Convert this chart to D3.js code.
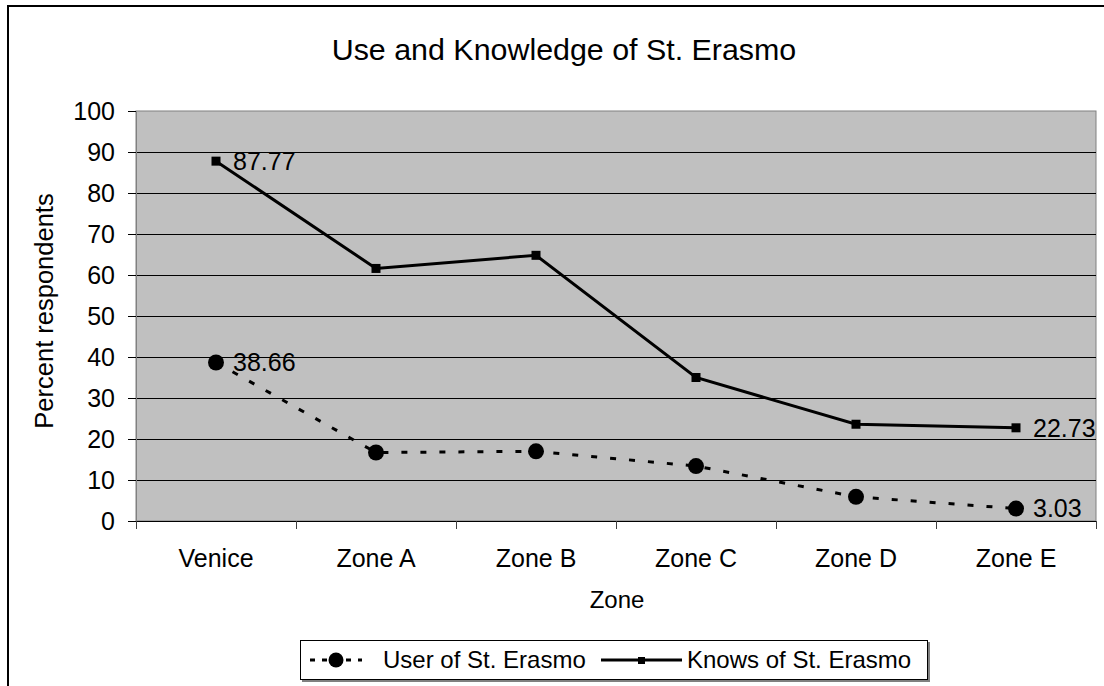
<!DOCTYPE html>
<html>
<head>
<meta charset="utf-8">
<script src="https://cdn.jsdelivr.net/npm/d3@7"></script>
<style>
  body { margin: 0; background: #fff; }
  text { font-family: "Liberation Sans", Arial, sans-serif; fill: #000; }
</style>
</head>
<body>
<div id="chart"></div>
<script>
// data
const zones = ["Venice", "Zone A", "Zone B", "Zone C", "Zone D", "Zone E"]
const userValues = [38.66, 16.7, 17.0, 13.4, 5.9, 3.03]
const knowsValues = [87.77, 61.6, 64.8, 35.0, 23.6, 22.73]
const yTicks = [0, 10, 20, 30, 40, 50, 60, 70, 80, 90, 100]
// only first and last points carry labels
const labelled = [0, 5]

const W = 1104, H = 686
const plot = {left: 136, right: 1096, top: 111, bottom: 521}

const svg = d3.select('#chart').append('svg')
  .attr('width', W)
  .attr('height', H)
  .attr('viewBox', [0, 0, W, H])

// outer chart frame (runs off the right and bottom edge)
svg.append('rect')
  .attr('x', 8).attr('y', 6)
  .attr('width', W + 20).attr('height', H + 20)
  .attr('fill', '#fff')
  .attr('stroke', '#000')
  .attr('stroke-width', 2)

const x = d3.scaleBand()
  .domain(zones)
  .range([plot.left, plot.right])

const y = d3.scaleLinear()
  .domain([0, 100])
  .range([plot.bottom, plot.top])

const cx = d => x(d) + x.bandwidth() / 2

// plot area
svg.append('rect')
  .attr('x', plot.left).attr('y', plot.top)
  .attr('width', plot.right - plot.left)
  .attr('height', plot.bottom - plot.top)
  .attr('fill', '#c0c0c0')
  .attr('stroke', '#808080')
  .attr('stroke-width', 1)

// gridlines
svg.append('g')
  .selectAll('line')
  .data(yTicks.filter(t => t > 0 && t < 100))
  .join('line')
    .attr('x1', plot.left).attr('x2', plot.right)
    .attr('y1', d => Math.round(y(d)) + 0.5)
    .attr('y2', d => Math.round(y(d)) + 0.5)
    .attr('stroke', '#000')

// y axis
const yAxis = svg.append('g')
  .attr('transform', `translate(${plot.left},0)`)
  .call(d3.axisLeft(y).tickValues(yTicks).tickSize(8).tickPadding(13).tickSizeOuter(0))
yAxis.select('.domain').attr('stroke', '#808080')
yAxis.selectAll('.tick line').attr('stroke', '#000')
yAxis.selectAll('text')
  .style('font-family', '"Liberation Sans", Arial, sans-serif')
  .style('font-size', '25px')
  .attr('fill', '#000')

// x axis: labels centred, ticks on category boundaries
const xAxis = svg.append('g')
  .attr('transform', `translate(0,${plot.bottom})`)
  .call(d3.axisBottom(x).tickSize(0).tickPadding(0).tickSizeOuter(0))
xAxis.select('.domain').attr('stroke', '#000')
xAxis.selectAll('text')
  .attr('y', 28)
  .style('font-family', '"Liberation Sans", Arial, sans-serif')
  .style('font-size', '25px')
  .attr('fill', '#000')

const bounds = zones.map(z => x(z)).concat([x.range()[1]])
svg.append('g')
  .selectAll('line')
  .data(bounds)
  .join('line')
    .attr('x1', d => Math.round(d) + 0.5).attr('x2', d => Math.round(d) + 0.5)
    .attr('y1', plot.bottom).attr('y2', plot.bottom + 8)
    .attr('stroke', '#404040')

// titles
svg.append('text')
  .attr('x', 564).attr('y', 60)
  .attr('text-anchor', 'middle')
  .style('font-size', '30.4px')
  .text('Use and Knowledge of St. Erasmo')

svg.append('text')
  .attr('x', 617).attr('y', 608)
  .attr('text-anchor', 'middle')
  .style('font-size', '24px')
  .text('Zone')

svg.append('text')
  .attr('transform', 'translate(53,311) rotate(-90)')
  .attr('text-anchor', 'middle')
  .style('font-size', '25.5px')
  .text('Percent respondents')

// series
const line = d3.line()
  .x((d, i) => cx(zones[i]))
  .y(d => y(d))

svg.append('path')
  .datum(knowsValues)
  .attr('d', line)
  .attr('fill', 'none')
  .attr('stroke', '#000')
  .attr('stroke-width', 3)

svg.append('path')
  .datum(userValues)
  .attr('d', line)
  .attr('fill', 'none')
  .attr('stroke', '#000')
  .attr('stroke-width', 3)
  .attr('stroke-dasharray', '6,13')

svg.append('g')
  .selectAll('rect')
  .data(knowsValues)
  .join('rect')
    .attr('x', (d, i) => cx(zones[i]) - 4.5)
    .attr('y', d => y(d) - 4.5)
    .attr('width', 9).attr('height', 9)
    .attr('fill', '#000')

svg.append('g')
  .selectAll('circle')
  .data(userValues)
  .join('circle')
    .attr('cx', (d, i) => cx(zones[i]))
    .attr('cy', d => y(d))
    .attr('r', 8)
    .attr('fill', '#000')

// data labels
const labelGroup = svg.append('g')
  .style('font-size', '25px')
;[knowsValues, userValues].forEach(series => {
  labelGroup.append('g')
    .selectAll('text')
    .data(labelled)
    .join('text')
      .attr('x', i => cx(zones[i]) + 17)
      .attr('y', i => y(series[i]))
      .attr('dy', '0.35em')
      .text(i => series[i].toFixed(2))
})

// legend
const legend = svg.append('g')
svg.append('rect')
  .attr('x', 302).attr('y', 642)
  .attr('width', 628).attr('height', 40)
  .attr('fill', '#808080')
legend.append('rect')
  .attr('x', 300.5).attr('y', 640.5)
  .attr('width', 627).attr('height', 39)
  .attr('fill', '#fff')
  .attr('stroke', '#000')
legend.raise()

legend.append('line')
  .attr('x1', 310).attr('x2', 362)
  .attr('y1', 660).attr('y2', 660)
  .attr('stroke', '#000').attr('stroke-width', 3)
  .attr('stroke-dasharray', '5,7')
legend.append('circle')
  .attr('cx', 336).attr('cy', 660).attr('r', 7.5)
  .attr('fill', '#000')
legend.append('text')
  .attr('x', 383).attr('y', 660).attr('dy', '0.35em')
  .style('font-size', '24px')
  .text('User of St. Erasmo')

legend.append('line')
  .attr('x1', 601).attr('x2', 682)
  .attr('y1', 660).attr('y2', 660)
  .attr('stroke', '#000').attr('stroke-width', 3)
legend.append('rect')
  .attr('x', 638).attr('y', 657)
  .attr('width', 7).attr('height', 7)
  .attr('fill', '#000')
legend.append('text')
  .attr('x', 687).attr('y', 660).attr('dy', '0.35em')
  .style('font-size', '24px')
  .text('Knows of St. Erasmo')
</script>
</body>
</html>
